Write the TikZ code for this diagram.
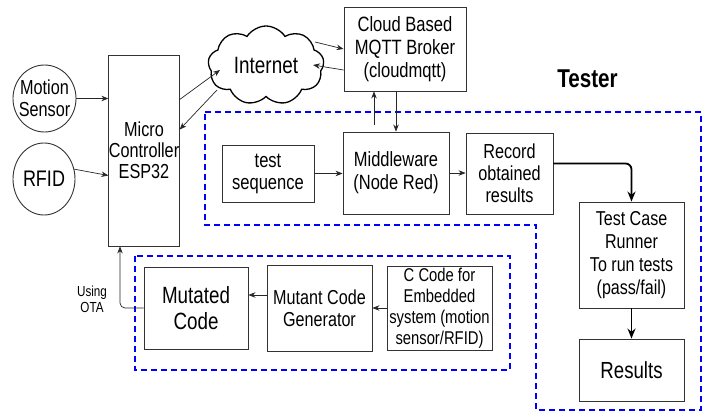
\documentclass[tikz,border=0pt]{standalone}
\usepackage{fontspec}
\setmainfont{Liberation Sans}[FakeStretch=0.8]
\usepackage{tikz}
\usetikzlibrary{arrows.meta, shapes.geometric, shapes.symbols, calc}

\begin{document}
\begin{tikzpicture}[x=1pt, y=-1pt]

% styles
\tikzstyle{box}=[draw=black!80, line width=0.9pt, align=center, inner sep=0pt, font=\fontsize{20.3}{22}\selectfont]
\tikzstyle{sensor}=[box, ellipse, inner sep=-14pt]
\tikzstyle{conn}=[black!85, line width=0.7pt, -{Stealth[length=7pt, width=5.5pt]}]
\tikzstyle{flow}=[black, line width=1.8pt, -{Stealth[length=10pt, width=8pt]}]
\tikzstyle{zone}=[blue, line width=1.8pt, dash pattern=on 6pt off 4pt]

\useasboundingbox (0,0) rectangle (715,411);

% device side
\node[sensor, minimum width=63pt, minimum height=67pt] (motion) at (44.5,98.5) {Motion\\Sensor};
\node[sensor, minimum width=62pt, minimum height=72pt, font=\fontsize{22.5}{24}\selectfont] (rfid) at (44,179) {RFID};
\node[box, minimum width=70pt, minimum height=191pt, font=\fontsize{20.3}{21}\selectfont] (mc) at (144,150.5) {Micro\\Controller\\ESP32};

\node[cloud, draw=black, line width=1.3pt, cloud puffs=9, cloud puff arc=115, cloud ignores aspect,
      minimum width=116pt, minimum height=79pt, inner sep=0pt, font=\fontsize{23.6}{24}\selectfont] (net) at (266,65.5) {Internet};

\node[box, minimum width=122pt, minimum height=84pt, font=\fontsize{20.7}{23}\selectfont] (mqtt) at (405,49) {Cloud Based\\MQTT Broker\\(cloudmqtt)};

% tester
\node[font=\bfseries\fontsize{25.8}{26}\selectfont] (tester) at (587.5,78.7) {Tester};

\node[box, minimum width=92pt, minimum height=57pt, font=\fontsize{20.7}{22}\selectfont] (testseq) at (268,173.5) {test\\sequence};
\node[box, minimum width=106pt, minimum height=82pt, font=\fontsize{20.6}{23}\selectfont] (mid) at (396,173) {Middleware\\(Node Red)};
\node[box, minimum width=87pt, minimum height=81pt] (record) at (509.5,173.5) {Record\\obtained\\results};
\node[box, minimum width=105pt, minimum height=106pt, font=\fontsize{20.1}{23}\selectfont] (runner) at (631.5,255) {Test Case\\Runner\\To run tests\\(pass/fail)};
\node[box, minimum width=105pt, minimum height=62pt, font=\fontsize{23.3}{24}\selectfont] (results) at (631.5,370) {Results};

% mutation
\node[box, minimum width=104pt, minimum height=82pt, font=\fontsize{23.5}{26}\selectfont] (mutated) at (196,308) {Mutated\\Code};
\node[box, minimum width=105pt, minimum height=86pt, font=\fontsize{20.2}{22}\selectfont] (gen) at (319.5,308) {Mutant Code\\Generator};
\node[box, minimum width=105pt, minimum height=84pt, font=\fontsize{18.5}{21}\selectfont] (ccode) at (439.5,308) {C Code for\\Embedded\\system (motion\\sensor/RFID)};
\node[align=center, font=\fontsize{14.6}{16}\selectfont] (ota) at (92,299) {Using\\OTA};

% dashed zones
\draw[zone] (205,112) -- (701,112) -- (701,410) -- (536,410) -- (536,225) -- (205,225) -- cycle;
\draw[zone] (135,256) rectangle (510,370);

% connectors
\draw[conn] (motion.east) -- (mc.west |- motion.east);
\draw[conn] (rfid.18) -- ($(mc.west)+(0,25)$);
\draw[conn] ($(mc.north east)+(0,45)$) -- ($(net)+(-46,4.5)$);
\draw[conn] ($(net)+(-49,24.5)$) -- ($(mc.north east)+(0,75)$);
\draw[conn] ($(net)+(49,-23.5)$) -- (mqtt.west);
\draw[conn] ($(mqtt.west)+(0,21)$) -- ($(net)+(47,-0.5)$);

\coordinate (upfoot) at ($(mid.north)+(-22,-7)$);
\draw[conn] (upfoot) -- (upfoot |- mqtt.south);
\draw[conn] (mqtt.south -| mid.north) -- (mid.north);

\draw[conn] (testseq.east) -- (mid.west |- testseq.east);
\draw[conn] (mid.east) -- (record.west |- mid.east);
\draw[flow, rounded corners=6pt] ($(record.east)+(0,-10)$) -| (runner.north);
\draw[flow] (runner.south) -- (results.north);

\draw[conn] (ccode.west) -- (gen.east);
\draw[conn] ($(gen.west)+(0,-13)$) -- ($(mutated.east)+(0,-13)$);
\draw[conn, rounded corners=5pt] (mutated.west) -| ($(mc.south)+(-24,0)$);

\end{tikzpicture}
\end{document}
